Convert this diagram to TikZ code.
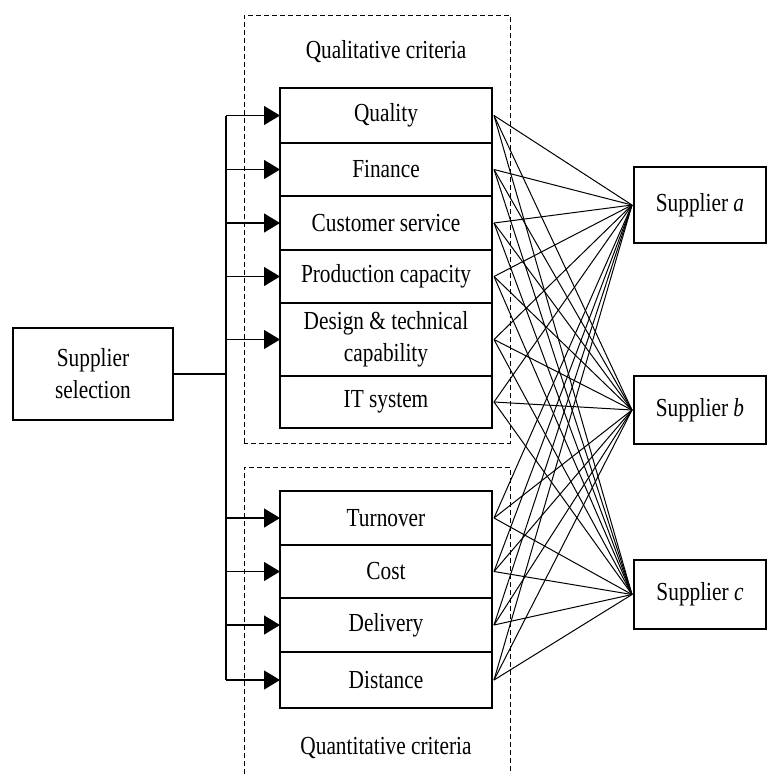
\documentclass[tikz,border=0pt]{standalone}
\usepackage{fontspec}
\setmainfont[FakeStretch=0.82]{Liberation Serif}
\usetikzlibrary{arrows.meta}
\begin{document}
\begin{tikzpicture}[x=1pt,y=-1pt,
  every node/.style={font=\fontsize{26}{32}\selectfont},
  crit/.style={draw,line width=1.3pt,minimum width=212pt,inner sep=0pt,outer sep=0pt,align=center},
  supbox/.style={draw,line width=1.3pt,minimum width=132pt,inner sep=0pt,outer sep=0pt,align=center},
  grp/.style={dash pattern=on 5pt off 3pt,line width=1pt},
  link/.style={line width=1pt},
  feed/.style={line width=1.3pt,-{Triangle[length=16pt,width=19pt]}}]
\useasboundingbox (0,0) rectangle (767,774);
% group frames
\draw[grp] (244,443) -- (244,15) -- (510,15) -- (510,443) -- cycle;
\draw[grp] (244,774) -- (244,467) -- (510,467) -- (510,774);
\node (qualt) at (386,52) {Qualitative criteria};
\node (quant) at (386,748) {Quantitative criteria};
% criteria
\node[crit,minimum height=55pt] (c1) at (386,115.5) {Quality};
\node[crit,minimum height=53pt] (c2) at (386,169.5) {Finance};
\node[crit,minimum height=54pt] (c3) at (386,223) {Customer service};
\node[crit,minimum height=53pt] (c4) at (386,276.5) {Production capacity};
\node[crit,minimum height=73pt] (c5) at (386,339.5) {Design \& technical\\capability};
\node[crit,minimum height=52pt] (c6) at (386,402) {IT system};
\node[crit,minimum height=54pt] (c7) at (386,518) {Turnover};
\node[crit,minimum height=53pt] (c8) at (386,571.5) {Cost};
\node[crit,minimum height=54pt] (c9) at (386,625) {Delivery};
\node[crit,minimum height=56pt] (c10) at (386,680) {Distance};
% selection
\node[supbox,minimum width=160pt,minimum height=92pt] (sel) at (93,374) {Supplier\\selection};
\coordinate (jn) at (226,374);
\coordinate (top) at (226,115.5);
\coordinate (bot) at (226,680);
\draw[line width=1.3pt] (sel.east) -- (jn);
\draw[line width=1.3pt] (top) -- (bot);
\foreach \c in {c1,c2,c3,c4,c5,c7,c8,c9,c10}{
  \draw[feed] (top |- \c.west) -- (\c.west);
}
% suppliers
\node[supbox,minimum height=76pt] (sa) at (700,205) {Supplier \textit{a}};
\node[supbox,minimum height=68pt] (sb) at (700,410) {Supplier \textit{b}};
\node[supbox,minimum height=69pt] (sc) at (700,594.5) {Supplier \textit{c}};
\foreach \c in {c1,c2,c3,c4,c5,c6,c7,c8,c9,c10}{
  \foreach \s in {sa,sb,sc}{
    \draw[link] ([xshift=2pt]\c.east) -- ([xshift=-2pt]\s.west);
  }
}
\end{tikzpicture}
\end{document}
